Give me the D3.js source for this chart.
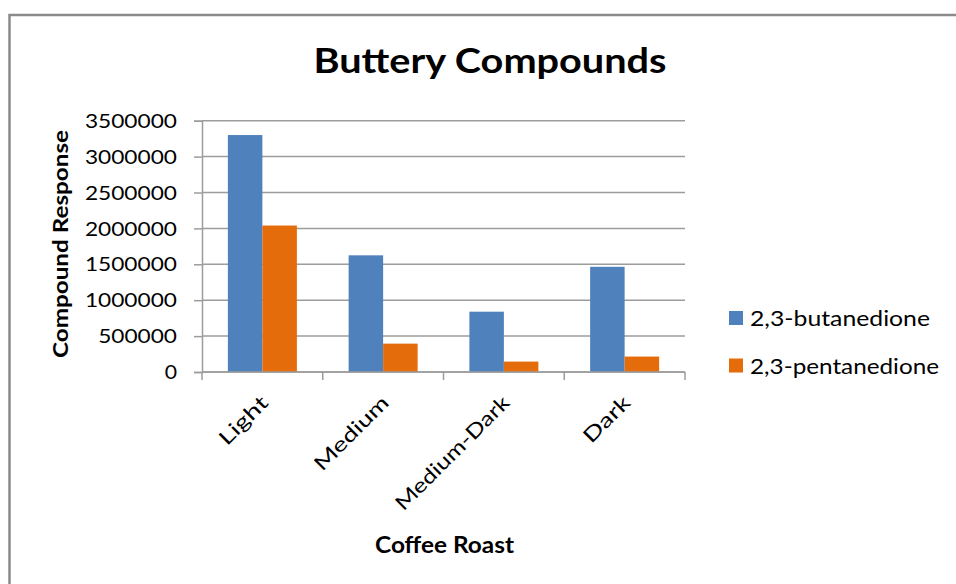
<!DOCTYPE html>
<html>
<head>
<meta charset="utf-8">
<script src="https://cdn.jsdelivr.net/npm/d3@7"></script>
<style>
  html, body { margin: 0; padding: 0; background: #ffffff; }
  svg { display: block; }
  text { font-family: Lato, "Open Sans", sans-serif; fill: #000; }
</style>
</head>
<body>
<svg id="chart" width="956" height="584"></svg>
<script>
// Roast levels along the x axis
const categories = ["Light", "Medium", "Medium-Dark", "Dark"];
// Series names shown in the legend
const seriesNames = ["2,3-butanedione", "2,3-pentanedione"];
// Compound response per roast level
const butanedione = [3300000, 1625000, 840000, 1465000];
const pentanedione = [2040000, 395000, 145000, 215000];
// Y axis tick values
const yTicks = [0, 500000, 1000000, 1500000, 2000000, 2500000, 3000000, 3500000];

const colors = ["#4F81BD", "#E46C0A"];
const seriesValues = [butanedione, pentanedione];

const svg = d3.select("#chart");

// Chart frame
svg.append("rect")
  .attr("x", 9.5).attr("y", 15)
  .attr("width", 1000).attr("height", 600)
  .attr("fill", "#fff")
  .attr("stroke", "#8a8a8a")
  .attr("stroke-width", 2.5);

const plot = { left: 202, right: 685, top: 120.7, bottom: 372 };

const x = d3.scaleBand()
  .domain(categories)
  .range([plot.left, plot.right])
  .paddingInner(0).paddingOuter(0);

const xs = d3.scaleBand()
  .domain(d3.range(seriesNames.length))
  .range([0, x.bandwidth()])
  .paddingInner(0).paddingOuter(0.75);

const y = d3.scaleLinear()
  .domain([0, 3500000])
  .range([plot.bottom, plot.top]);

// Horizontal gridlines
svg.append("g")
  .selectAll("line")
  .data(yTicks)
  .join("line")
  .attr("x1", plot.left).attr("x2", plot.right)
  .attr("y1", d => y(d)).attr("y2", d => y(d))
  .attr("stroke", "#9c9c9c")
  .attr("stroke-width", 1.5);

// Bars
const rows = categories.map((c, i) => ({ c, vals: seriesValues.map(s => s[i]) }));
const groups = svg.append("g")
  .selectAll("g")
  .data(rows)
  .join("g")
  .attr("transform", d => `translate(${x(d.c)},0)`);

groups.selectAll("rect")
  .data(d => d.vals.map((v, k) => ({ v, k })))
  .join("rect")
  .attr("x", d => xs(d.k))
  .attr("width", xs.bandwidth())
  .attr("y", d => y(d.v))
  .attr("height", d => y(0) - y(d.v))
  .attr("fill", d => colors[d.k]);

// Y axis
const yAxis = svg.append("g")
  .attr("transform", `translate(${plot.left},0)`)
  .call(d3.axisLeft(y).tickValues(yTicks).tickSize(8).tickPadding(17)
    .tickFormat(d3.format("d")));
yAxis.select(".domain").attr("stroke", "#9c9c9c").attr("stroke-width", 1.5);
yAxis.selectAll(".tick line").attr("stroke", "#9c9c9c").attr("stroke-width", 1.5);
yAxis.selectAll(".tick text")
  .attr("font-family", "Lato, sans-serif")
  .attr("font-size", 18.5)
  .attr("fill", "#000")
  .attr("dy", "0.36em")
  .attr("textLength", d => String(d).length * 13.3 - 1)
  .attr("lengthAdjust", "spacingAndGlyphs");

// X axis line with ticks on category boundaries
const xAxis = svg.append("g");
xAxis.append("line")
  .attr("x1", plot.left).attr("x2", plot.right)
  .attr("y1", y(0)).attr("y2", y(0))
  .attr("stroke", "#9c9c9c").attr("stroke-width", 1.5);
const bounds = categories.map(c => x(c)).concat([x.range()[1]]);
xAxis.selectAll("line.tk")
  .data(bounds)
  .join("line")
  .attr("class", "tk")
  .attr("x1", d => d).attr("x2", d => d)
  .attr("y1", y(0)).attr("y2", y(0) + 8)
  .attr("stroke", "#9c9c9c").attr("stroke-width", 1.5);

// Rotated category labels
const labelLen = { "Light": 60, "Medium": 96, "Medium-Dark": 152, "Dark": 57 };
xAxis.selectAll("text")
  .data(categories)
  .join("text")
  .attr("transform", d => `translate(${x(d) + x.bandwidth() / 2 + 7},${y(0) + 32}) rotate(-45)`)
  .attr("text-anchor", "end")
  .attr("font-size", 20)
  .attr("textLength", d => labelLen[d])
  .attr("lengthAdjust", "spacingAndGlyphs")
  .text(d => d);

// Title
svg.append("text")
  .attr("x", 490).attr("y", 73)
  .attr("text-anchor", "middle")
  .attr("font-size", 34).attr("font-weight", 700)
  .attr("textLength", 353).attr("lengthAdjust", "spacingAndGlyphs")
  .text("Buttery Compounds");

// Axis titles
svg.append("text")
  .attr("transform", "translate(68,244) rotate(-90)")
  .attr("text-anchor", "middle")
  .attr("font-size", 20).attr("font-weight", 700)
  .attr("textLength", 228).attr("lengthAdjust", "spacingAndGlyphs")
  .text("Compound Response");

svg.append("text")
  .attr("x", 444.5).attr("y", 553)
  .attr("text-anchor", "middle")
  .attr("font-size", 22).attr("font-weight", 700)
  .attr("textLength", 139).attr("lengthAdjust", "spacingAndGlyphs")
  .text("Coffee Roast");

// Legend
const legendLen = [180, 189];
const legend = svg.append("g")
  .selectAll("g")
  .data(seriesNames)
  .join("g")
  .attr("transform", (d, i) => `translate(729,${311 + i * 47.5})`);
legend.append("rect")
  .attr("width", 14).attr("height", 14)
  .attr("fill", (d, i) => colors[i]);
legend.append("text")
  .attr("x", 21).attr("y", 15)
  .attr("font-size", 21)
  .attr("textLength", (d, i) => legendLen[i])
  .attr("lengthAdjust", "spacingAndGlyphs")
  .text(d => d);
</script>
</body>
</html>
